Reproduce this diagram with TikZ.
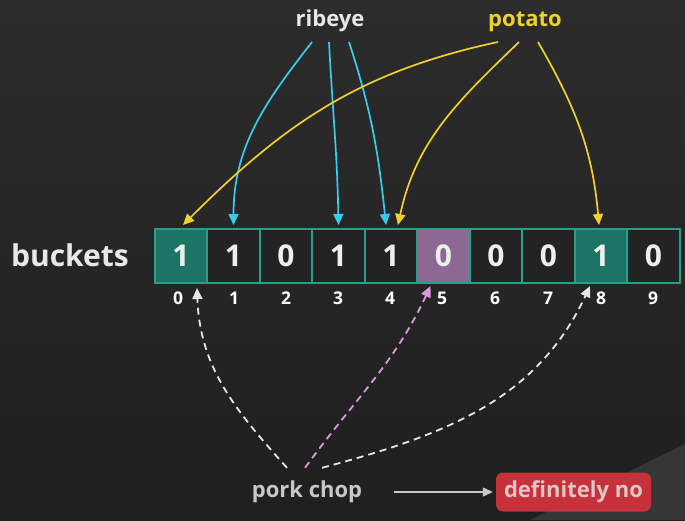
\documentclass[tikz,border=0pt]{standalone}
\usepackage{fontspec}
\setmainfont{Open Sans}
\usetikzlibrary{arrows.meta}
\definecolor{bgtop}{HTML}{2C2C2C}
\definecolor{bgbot}{HTML}{1F1F1F}
\definecolor{wedgec}{HTML}{363636}
\definecolor{cellborder}{HTML}{27A088}
\definecolor{cellbg}{HTML}{232323}
\definecolor{tealfill}{HTML}{1C7564}
\definecolor{purplefill}{HTML}{8C6892}
\definecolor{digitc}{HTML}{EEEEEE}
\definecolor{cyanc}{HTML}{38CDEE}
\definecolor{yellowc}{HTML}{F0D02A}
\definecolor{pinkc}{HTML}{D99AE0}
\definecolor{dashc}{HTML}{E6E6E6}
\definecolor{labelc}{HTML}{E8E8E8}
\definecolor{porkc}{HTML}{C8C8C8}
\definecolor{redc}{HTML}{C7323A}
\definecolor{redtext}{HTML}{DCC6C6}
\begin{document}
\begin{tikzpicture}[x=1pt,y=1pt,
  lbl/.style={font=\bfseries\fontsize{22}{26}\selectfont, inner sep=0pt},
  cell/.style={draw=cellborder, line width=2pt, fill=cellbg, minimum width=52.5pt, minimum height=54pt, inner sep=0pt, text=digitc, font=\bfseries\fontsize{30}{30}\selectfont},
  idx/.style={text=white, font=\bfseries\fontsize{17.5}{18}\selectfont, inner sep=0pt},
  cyarr/.style={draw=cyanc, line width=1.7pt, -{Triangle[width=10pt,length=11pt]}},
  yarr/.style={draw=yellowc, line width=1.7pt, -{Triangle[width=10pt,length=11pt]}},
  warr/.style={draw=dashc, line width=1.8pt, dash pattern=on 7pt off 5pt, -{Triangle[width=10pt,length=11pt]}},
  parr/.style={draw=pinkc, line width=1.8pt, dash pattern=on 7pt off 5pt, -{Triangle[width=10pt,length=11pt]}},
  garr/.style={draw=porkc, line width=1.4pt, -{Triangle[width=9pt,length=10pt]}}
]
\shade[top color=bgtop,bottom color=bgbot] (0,0) rectangle (685,-520);
\useasboundingbox (0,0) rectangle (685,-520);
\fill[wedgec] (530,-520) -- (685,-444) -- (685,-520) -- cycle;

% labels
\node[font=\bfseries\fontsize{30}{34}\selectfont, text=labelc, inner sep=0pt] (bk) at (70,-255) {buckets};
\node[lbl, text=labelc, anchor=base] (rib) at (330,-26) {ribeye};
\node[lbl, text=yellowc, anchor=base] (pot) at (525,-26) {potato};

% cells
\node[cell, fill=tealfill] (c0) at (181,-256) {1};
\node[cell] (c1) at (233.5,-256) {1};
\node[cell] (c2) at (286,-256) {0};
\node[cell] (c3) at (338.5,-256) {1};
\node[cell] (c4) at (391,-256) {1};
\node[cell, fill=purplefill] (c5) at (443.5,-256) {0};
\node[cell] (c6) at (496,-256) {0};
\node[cell] (c7) at (548.5,-256) {0};
\node[cell, fill=tealfill] (c8) at (601,-256) {1};
\node[cell] (c9) at (653.5,-256) {0};

% indices
\node[idx] (n0) at (178,-298) {0};
\node[idx] (n1) at (234,-298) {1};
\node[idx] (n2) at (286,-298) {2};
\node[idx] (n3) at (338,-298) {3};
\node[idx] (n4) at (390,-298) {4};
\node[idx] (n5) at (442,-298) {5};
\node[idx] (n6) at (495,-298) {6};
\node[idx] (n7) at (548,-298) {7};
\node[idx] (n8) at (601,-298) {8};
\node[idx] (n9) at (653,-298) {9};

% ribeye arrows
\draw[cyarr] ([xshift=-18pt,yshift=-16pt]rib.base) to[out=-128,in=90] ([yshift=3pt]c1.north);
\draw[cyarr] ([xshift=-1pt,yshift=-16pt]rib.base) to[out=-87,in=91] ([yshift=3pt]c3.north);
\draw[cyarr] ([xshift=19pt,yshift=-16pt]rib.base) to[out=-72,in=96] ([xshift=-5pt,yshift=3pt]c4.north);

% potato arrows
\draw[yarr] ([xshift=-27pt,yshift=-16pt]pot.base) to[out=192,in=45] ([xshift=2pt,yshift=3pt]c0.north);
\draw[yarr] ([xshift=-6pt,yshift=-16pt]pot.base) to[out=-136,in=78] ([xshift=7pt,yshift=3pt]c4.north);
\draw[yarr] ([xshift=13pt,yshift=-16pt]pot.base) to[out=-60,in=95] ([xshift=-2pt,yshift=3pt]c8.north);

% bottom
\node[lbl, text=porkc] (pork) at (307,-492) {pork chop};
\node[lbl, fill=redc, text=redtext, rounded corners=7pt, minimum width=155pt, minimum height=39pt] (def) at (573.5,-492) {definitely no};
\draw[garr, shorten <=32pt, shorten >=3pt] (pork.east) -- (def.west);

\draw[warr] ([xshift=-20pt,yshift=13pt]pork.north) to[out=132,in=-88] ([xshift=16pt,yshift=-4pt]c0.south);
\draw[parr] ([xshift=-2pt,yshift=13pt]pork.north) to[out=54,in=-115] ([xshift=-13pt,yshift=-2pt]c5.south);
\draw[warr] ([xshift=15pt,yshift=13pt]pork.north) to[out=15,in=-115] ([xshift=-11pt,yshift=-2pt]c8.south);
\end{tikzpicture}
\end{document}
